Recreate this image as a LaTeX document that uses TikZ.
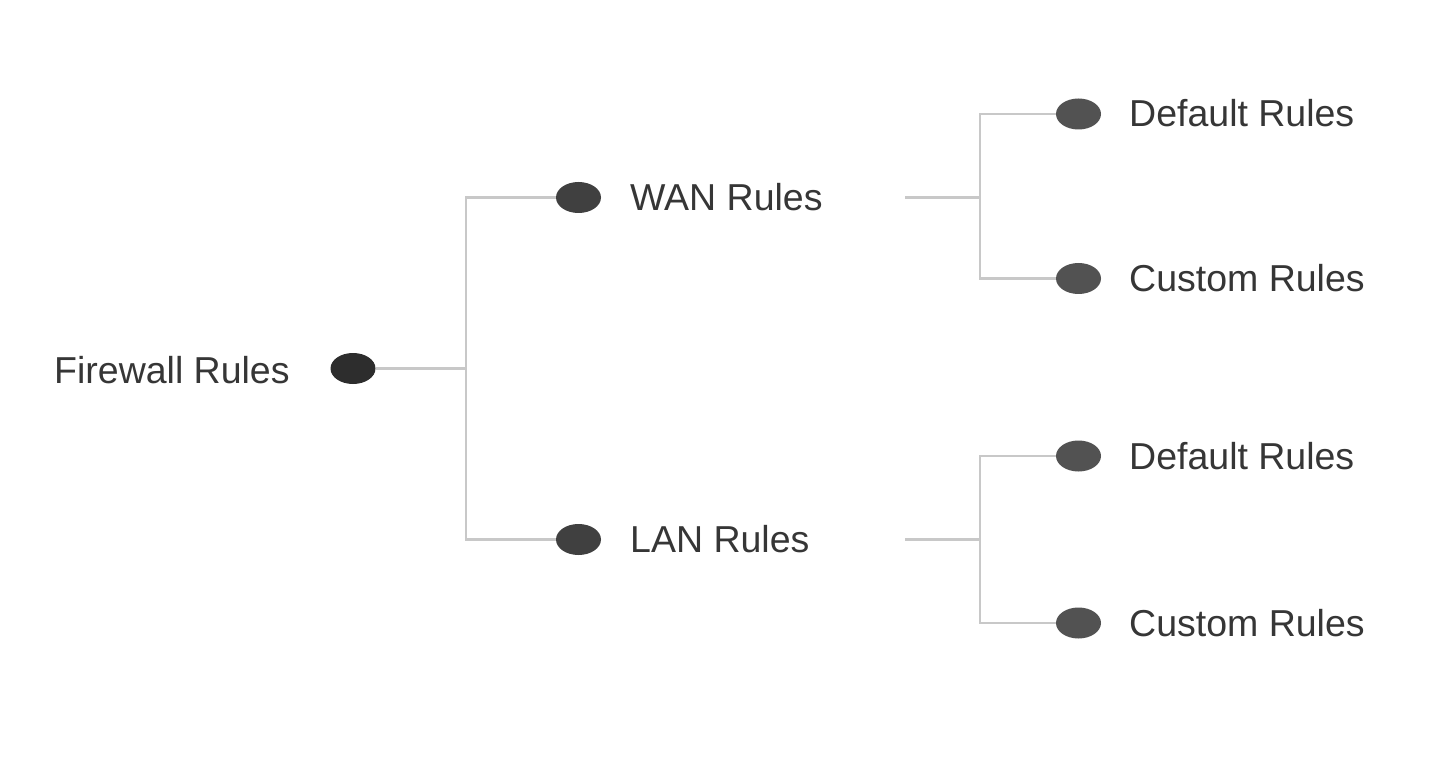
\documentclass[tikz,border=0pt]{standalone}
\usepackage{fontspec}
\setmainfont{Liberation Sans}
\usetikzlibrary{shapes.geometric}
\definecolor{txt}{HTML}{363636}
\definecolor{lin}{HTML}{C8C8C8}
\definecolor{rootc}{HTML}{2D2D2D}
\definecolor{midc}{HTML}{404040}
\definecolor{leafc}{HTML}{525252}
\begin{document}
\begin{tikzpicture}[x=1pt,y=-1pt,
  dot/.style={ellipse, minimum width=45pt, minimum height=31pt, inner sep=0pt, draw=none},
  lbl/.style={anchor=base west, inner sep=0pt, text=txt, font=\fontsize{37.5}{40}\selectfont},
  conn/.style={draw=lin, line width=2.5pt}]
\useasboundingbox (0,0) rectangle (1436,762);
\fill[white] (0,0) rectangle (1436,762);
% nodes
\node[dot, fill=rootc] (root) at (353,368.5) {};
\node[dot, fill=midc] (wan) at (578.5,197.5) {};
\node[dot, fill=midc] (lan) at (578.5,539.5) {};
\node[dot, fill=leafc] (wd) at (1078.5,114) {};
\node[dot, fill=leafc] (wc) at (1078.5,278.5) {};
\node[dot, fill=leafc] (ld) at (1078.5,456) {};
\node[dot, fill=leafc] (lc) at (1078.5,623) {};
% labels
\node[lbl] (troot) at (54,383) {Firewall Rules};
\node[lbl] (twan) at (630,210.5) {WAN Rules};
\node[lbl] (tlan) at (630,552.5) {LAN Rules};
\node[lbl] (twd) at (1129,127) {Default Rules};
\node[lbl] (twc) at (1129,291.5) {Custom Rules};
\node[lbl] (tld) at (1129,469) {Default Rules};
\node[lbl] (tlc) at (1129,636) {Custom Rules};
% free ends of second-level connectors
\coordinate (wstart) at (905,197.5);
\coordinate (lstart) at (905,539.5);
% connectors
\coordinate (j0) at (466,368.5);
\draw[conn] (root.east) -- (j0);
\draw[conn] (j0) |- (wan.west);
\draw[conn] (j0) |- (lan.west);
\coordinate (j1) at (980,197.5);
\draw[conn] (wstart) -- (j1);
\draw[conn] (j1) |- (wd.west);
\draw[conn] (j1) |- (wc.west);
\coordinate (j2) at (980,539.5);
\draw[conn] (lstart) -- (j2);
\draw[conn] (j2) |- (ld.west);
\draw[conn] (j2) |- (lc.west);
\end{tikzpicture}
\end{document}
